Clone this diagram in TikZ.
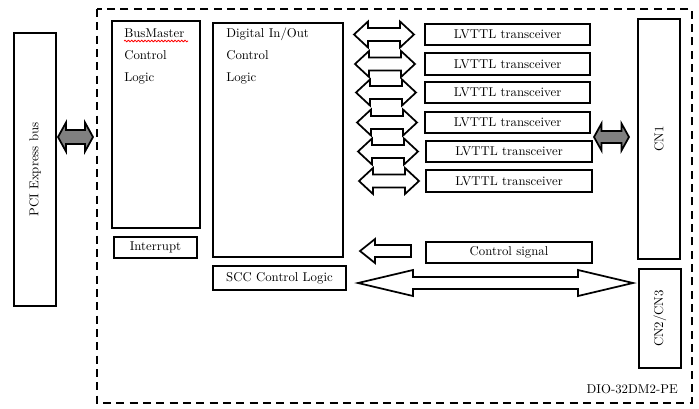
\documentclass[tikz,border=0pt]{standalone}
\usepackage{tikz}
\usepackage{xcolor}
\usetikzlibrary{decorations.pathmorphing}
\tikzstyle{block} = [rectangle, draw=black, line width=1.5pt, fill=white, inner sep=0pt, font=\fontsize{9.6}{11}\selectfont]
\tikzstyle{txt} = [inner sep=0pt, align=left, font=\fontsize{9.6}{16.5}\selectfont]
\tikzstyle{hollow} = [draw=black, line width=1.3pt, fill=white, line join=miter]
\tikzstyle{solid grey} = [draw=black, line width=1.3pt, fill=black!50, line join=miter]
\tikzstyle{outline} = [draw=black, line width=1.5pt, dash pattern=on 6pt off 4pt]
% block double arrow: style, left tip, right tip, y, head length, head half, shaft half
\newcommand{\dblarrow}[7]{%
  \draw[#1] (#2,#4) -- ++(#5,-#6) -- ++(0,#6-#7) -- (#3-#5,#4-#7) -- ++(0,#7-#6)
    -- (#3,#4) -- ++(-#5,#6) -- ++(0,#7-#6) -- (#2+#5,#4+#7) -- ++(0,#6-#7) -- cycle;}

\begin{document}
\begin{tikzpicture}[x=0.75pt, y=-0.75pt]
    \useasboundingbox (0,0) rectangle (699,408);
    \draw[outline] (97,9) rectangle (692,403);

    % host side
    \node (pci) [block, minimum width=31.5pt, minimum height=204.5pt] at (35,169.5) {};
    \node (pcitxt) [txt, rotate=90] at (pci.center) {PCI Express bus};
    \dblarrow{solid grey}{58}{93}{137}{8}{14.5}{7}

    % logic blocks
    \node (bm) [block, minimum width=66pt, minimum height=155pt] at (156,124.5) {};
    \node (bmtxt) [txt, anchor=north west] at (124,28) {BusMaster\\Control\\Logic};
    \draw[red, line width=0.6pt, decorate, decoration={snake, amplitude=0.6pt, segment length=2.5pt}] (124,41) -- (188,41);
    \node (irq) [block, minimum width=62pt, minimum height=16pt] at (155.5,247.5) {Interrupt};
    \node (dio) [block, minimum width=97.5pt, minimum height=175.5pt] at (278,140) {};
    \node (diotxt) [txt, anchor=north west] at (226,28) {Digital In/Out\\Control\\Logic};
    \node (scc) [block, minimum width=100pt, minimum height=18pt] at (279.5,278) {SCC Control Logic};

    % transceivers
    \foreach \i/\y/\x in {1/34.5/507.5, 2/64/507.5, 3/92.5/507.5, 4/122.5/507.5, 5/151.5/509, 6/181/509} {
        \node (lv\i) [block, minimum width=124pt, minimum height=16pt] at (\x,\y) {LVTTL transceiver};
        \dblarrow{hollow}{353+\i}{413+\i}{\y}{14}{13}{6.5}
    }
    \node (ctrl) [block, minimum width=124pt, minimum height=16pt] at (509,252.5) {Control signal};
    \draw[hollow] (360,251) -- (375,239) -- (375,245) -- (411,245) -- (411,257) -- (375,257) -- (375,263) -- cycle;
    \dblarrow{hollow}{358}{633}{283}{55}{13}{6}

    % connectors
    \node (cn1) [block, minimum width=31.5pt, minimum height=180pt] at (659,139) {};
    \node (cn1txt) [txt, rotate=90] at (cn1.center) {CN1};
    \dblarrow{solid grey}{594}{629}{137}{7.5}{13.5}{6}
    \node (cn23) [block, minimum width=31.5pt, minimum height=74pt] at (660,318.5) {};
    \node (cn23txt) [txt, rotate=90] at (cn23.center) {CN2/CN3};

    \node (board) [txt, anchor=east] at (678,389) {DIO-32DM2-PE};
\end{tikzpicture}
\end{document}
